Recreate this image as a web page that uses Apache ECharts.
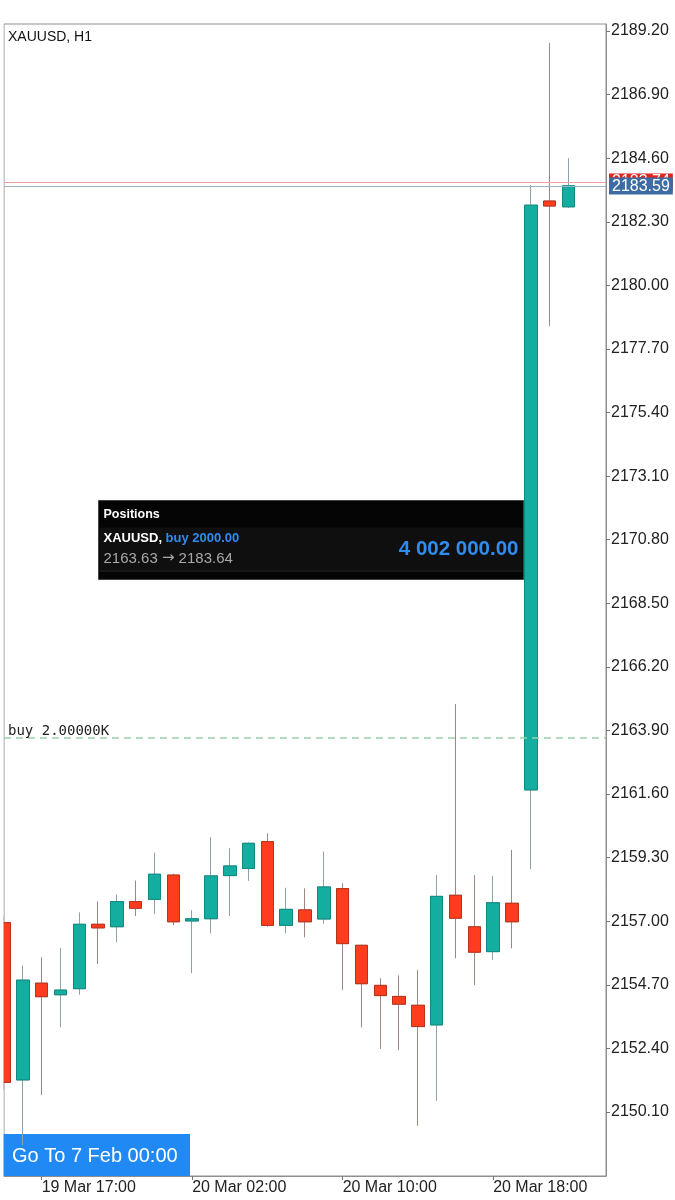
<!DOCTYPE html>
<html>
<head>
<meta charset="utf-8">
<script src="https://cdn.jsdelivr.net/npm/echarts@6/dist/echarts.min.js"></script>
<style>
html,body{margin:0;padding:0;background:#fff;}
#c{width:675px;height:1200px;}
</style>
</head>
<body>
<div id="c"></div>
<script>
// ---- data ----
const times = [
  '19 Mar 15:00','19 Mar 16:00','19 Mar 17:00','19 Mar 18:00','19 Mar 19:00','19 Mar 20:00','19 Mar 21:00','19 Mar 22:00','19 Mar 23:00',
  '20 Mar 01:00','20 Mar 02:00','20 Mar 03:00','20 Mar 04:00','20 Mar 05:00','20 Mar 06:00','20 Mar 07:00','20 Mar 08:00','20 Mar 09:00',
  '20 Mar 10:00','20 Mar 11:00','20 Mar 12:00','20 Mar 13:00','20 Mar 14:00','20 Mar 15:00','20 Mar 16:00','20 Mar 17:00','20 Mar 18:00',
  '20 Mar 19:00','20 Mar 20:00','20 Mar 21:00','20 Mar 22:00'
];
const opens  = [2156.95, 2151.26, 2154.76, 2154.34, 2154.56, 2156.89, 2156.80, 2157.71, 2157.79, 2158.67, 2157.01, 2157.09, 2158.65, 2158.91, 2159.88, 2156.85, 2157.41, 2157.08, 2158.18, 2156.13, 2154.68, 2154.28, 2153.96, 2153.25, 2157.94, 2156.80, 2155.90, 2157.65, 2161.75, 2183.05, 2182.84];
const closes = [2151.17, 2154.87, 2154.27, 2154.51, 2156.89, 2156.76, 2157.71, 2157.47, 2158.70, 2156.98, 2157.09, 2158.64, 2159.00, 2159.82, 2156.85, 2157.43, 2156.98, 2158.24, 2156.19, 2154.74, 2154.31, 2154.00, 2153.19, 2157.90, 2157.11, 2155.88, 2157.67, 2156.98, 2182.90, 2182.87, 2183.60];
const lows   = [2150.90, 2148.90, 2150.71, 2153.16, 2154.34, 2155.45, 2156.24, 2157.19, 2157.26, 2156.86, 2155.12, 2156.56, 2157.19, 2158.46, 2156.80, 2156.56, 2156.42, 2156.91, 2154.51, 2153.16, 2152.38, 2152.34, 2149.60, 2150.51, 2155.66, 2154.69, 2155.60, 2156.02, 2158.88, 2178.53, 2182.80];
const highs  = [2157.20, 2155.39, 2155.70, 2156.03, 2157.32, 2157.72, 2157.97, 2158.47, 2159.48, 2158.72, 2157.40, 2160.04, 2159.64, 2159.85, 2160.18, 2158.21, 2158.19, 2159.52, 2158.37, 2156.15, 2154.94, 2155.04, 2155.24, 2158.67, 2164.86, 2158.67, 2158.64, 2159.58, 2183.63, 2188.77, 2184.60];
const yTicks = [2150.10, 2152.40, 2154.70, 2157.00, 2159.30, 2161.60, 2163.90, 2166.20, 2168.50, 2170.80, 2173.10, 2175.40, 2177.70, 2180.00, 2182.30, 2184.60, 2186.90, 2189.20];
const xTickLabels = ['19 Mar 17:00', '20 Mar 02:00', '20 Mar 10:00', '20 Mar 18:00'];
const padSlots = ['', ''];
const bidPrice = 2183.59;
const askPrice = 2183.74;
const entryPrice = 2163.63;
const entryLabel = 'buy 2.00000K';
const symbolTitle = 'XAUUSD, H1';
const posSymbol = 'XAUUSD,';
const posSide = 'buy 2000.00';
const posOpen = 2163.63;
const posNow = 2183.64;
const posProfit = '4 002 000.00';
const goToText = 'Go To 7 Feb 00:00';
const yMin = 2147.785, yMax = 2189.453;

// ---- build ----
const cats = times.concat(padSlots);
const wickData = times.map((t, i) => [opens[i], closes[i], lows[i], highs[i]]).concat(padSlots.map(() => '-'));
const bodyData = times.map((t, i) => [opens[i], closes[i], Math.min(opens[i], closes[i]), Math.max(opens[i], closes[i])]).concat(padSlots.map(() => '-'));

const FONT = '"Liberation Sans", Arial, Helvetica, sans-serif';
const chart = echarts.init(document.getElementById('c'), null, {renderer: 'canvas'});

const option = {
  animation: false,
  backgroundColor: '#ffffff',
  grid: {left: 4, right: 69, top: 24, bottom: 24, show: true, borderColor: '#8f8f8f', borderWidth: 1, backgroundColor: 'transparent'},
  xAxis: {
    type: 'category',
    data: cats,
    boundaryGap: false,
    axisLine: {show: true, lineStyle: {color: '#8f8f8f', width: 1}},
    axisTick: {show: true, length: 4, lineStyle: {color: '#777'}, interval: (i, v) => xTickLabels.includes(v)},
    axisLabel: {show: true, interval: (i, v) => xTickLabels.includes(v), align: 'left', margin: 4, color: '#222', fontSize: 16, fontFamily: FONT},
    splitLine: {show: false}
  },
  yAxis: {
    type: 'value',
    position: 'right',
    min: yMin,
    max: yMax,
    scale: true,
    axisLine: {show: true, lineStyle: {color: '#8f8f8f', width: 1}},
    axisTick: {show: true, length: 4, lineStyle: {color: '#777'}, customValues: yTicks},
    axisLabel: {show: true, customValues: yTicks, formatter: v => Number(v).toFixed(2), margin: 5, color: '#222', fontSize: 16, fontFamily: FONT},
    splitLine: {show: false}
  },
  series: [
    {
      type: 'candlestick',
      name: 'wicks',
      data: wickData,
      barWidth: 13,
      clip: true,
      z: 2,
      silent: true,
      itemStyle: {color: '#13ae9f', color0: '#ff3d1e', borderColor: '#8aa3a7', borderColor0: '#a08585', borderWidth: 1},
      markLine: {
        silent: true,
        symbol: ['none', 'none'],
        animation: false,
        lineStyle: {color: '#f0a0a0', width: 1, type: 'solid'},
        label: {show: true, position: 'end', distance: 3, formatter: () => askPrice.toFixed(2), backgroundColor: '#e0231c', color: '#ffffff', fontSize: 16, fontFamily: FONT, padding: [1, 3, 0, 3]},
        data: [{yAxis: askPrice}]
      }
    },
    {
      type: 'candlestick',
      name: 'bodies',
      data: bodyData,
      barWidth: 13,
      clip: true,
      z: 3,
      silent: true,
      itemStyle: {color: '#13ae9f', color0: '#ff3d1e', borderColor: '#0e8a7f', borderColor0: '#b8321a', borderWidth: 1},
      markLine: {
        silent: true,
        symbol: ['none', 'none'],
        animation: false,
        data: [
          {
            yAxis: bidPrice,
            lineStyle: {color: '#9db2c6', width: 1, type: 'solid'},
            label: {show: true, position: 'end', distance: 3, formatter: () => bidPrice.toFixed(2), backgroundColor: '#3c6ca3', color: '#ffffff', fontSize: 16, fontFamily: FONT, padding: [1, 3, 0, 3]}
          },
          {
            yAxis: entryPrice,
            lineStyle: {color: '#9ccfa6', width: 1.5, type: [7, 5]},
            label: {show: true, position: 'insideStartTop', distance: [4, 0], formatter: entryLabel, color: '#222', fontSize: 14, fontFamily: '"DejaVu Sans Mono", monospace'}
          }
        ]
      }
    }
  ],
  graphic: [
    {
      type: 'rect', left: 0, top: 24, z: 5, silent: true,
      shape: {x: 0, y: 0, width: 3.5, height: 1152},
      style: {fill: '#ffffff'}
    },
    {
      type: 'text', left: 8, top: 30, z: 10, silent: true,
      style: {text: symbolTitle, fill: '#111', font: '14px ' + FONT}
    },
    {
      type: 'group', left: 98, top: 500, z: 20, silent: true,
      children: [
        {type: 'rect', shape: {x: 0, y: 0, width: 425, height: 79}, style: {fill: '#050505', stroke: '#444', lineWidth: 1}},
        {type: 'rect', shape: {x: 1, y: 27, width: 423, height: 43}, style: {fill: '#0f0f0f'}},
        {type: 'rect', shape: {x: 1, y: 70, width: 423, height: 1}, style: {fill: '#262626'}},
        {type: 'text', style: {x: 5, y: 14, text: 'Positions', fill: '#ffffff', font: 'bold 12.5px ' + FONT, textVerticalAlign: 'middle'}},
        {type: 'text', style: {x: 5, y: 38, text: '{a|' + posSymbol + ' }{b|' + posSide + '}', textVerticalAlign: 'middle',
          rich: {a: {fill: '#ffffff', font: 'bold 13px ' + FONT}, b: {fill: '#2f8cf0', font: 'bold 13px ' + FONT}}}},
        {type: 'text', style: {x: 5, y: 58, text: '{n|' + posOpen.toFixed(2) + ' }{r|\u2192}{n| ' + posNow.toFixed(2) + '}', textVerticalAlign: 'middle',
          rich: {n: {fill: '#a9a9a9', font: '15px ' + FONT}, r: {fill: '#a9a9a9', font: '15px "DejaVu Sans", sans-serif'}}}},
        {type: 'text', style: {x: 420, y: 49, text: posProfit, fill: '#2f8cf0', font: 'bold 20.5px ' + FONT, textAlign: 'right', textVerticalAlign: 'middle'}}
      ]
    },
    {
      type: 'group', left: 3, top: 1134, z: 20, silent: true,
      children: [
        {type: 'rect', shape: {x: 0, y: 0, width: 187, height: 42}, style: {fill: '#2189f3'}},
        {type: 'text', style: {x: 9, y: 22, text: goToText, fill: '#ffffff', font: '20px ' + FONT, textVerticalAlign: 'middle'}}
      ]
    }
  ]
};
chart.setOption(option);
</script>
</body>
</html>
